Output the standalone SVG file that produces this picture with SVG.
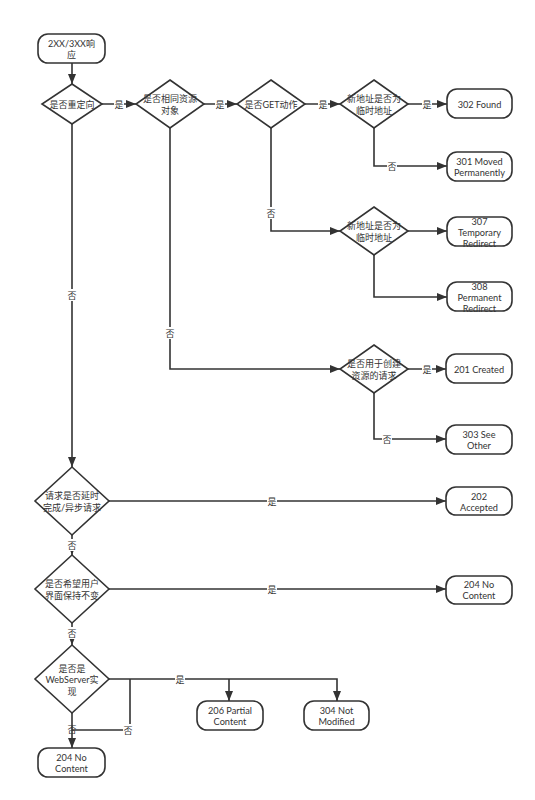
<svg xmlns="http://www.w3.org/2000/svg" width="535" height="800" viewBox="0 0 535 800">
<style>
.n{fill:#fff;stroke:#333;stroke-width:1.6}
.t{font-family:Lato,"Noto Sans CJK SC",sans-serif;font-size:9.2px;fill:#333;text-anchor:middle;dominant-baseline:central}
.c{font-family:Lato,"Noto Sans CJK SC",sans-serif;font-size:9px;fill:#333;text-anchor:middle;dominant-baseline:central}
.e{fill:none;stroke:#333;stroke-width:1.6}
.lb{fill:#fff}
</style>
<defs>
<marker id="a" markerUnits="userSpaceOnUse" markerWidth="10" markerHeight="8" refX="10" refY="4" orient="auto">
<path d="M0,0 L10,4 L0,8 z" fill="#333"/>
</marker>
</defs>
<rect width="535" height="800" fill="#fff"/>
<g id="connectors">
<path class="e" d="M72,63 V84" marker-end="url(#a)"/>
<path class="e" d="M101,104 H136" marker-end="url(#a)"/>
<path class="e" d="M204,104 H237" marker-end="url(#a)"/>
<path class="e" d="M305,104 H340" marker-end="url(#a)"/>
<path class="e" d="M408,104 H447" marker-end="url(#a)"/>
<path class="e" d="M374,128 V166 H447" marker-end="url(#a)"/>
<path class="e" d="M271,128 V231 H340" marker-end="url(#a)"/>
<path class="e" d="M408,231 H447" marker-end="url(#a)"/>
<path class="e" d="M374,255 V297 H447" marker-end="url(#a)"/>
<path class="e" d="M170,128 V369 H340" marker-end="url(#a)"/>
<path class="e" d="M408,369 H446" marker-end="url(#a)"/>
<path class="e" d="M374,393 V439 H446" marker-end="url(#a)"/>
<path class="e" d="M72,124 V467" marker-end="url(#a)"/>
<path class="e" d="M109,501 H446" marker-end="url(#a)"/>
<path class="e" d="M72,535 V555" marker-end="url(#a)"/>
<path class="e" d="M109,589 H446" marker-end="url(#a)"/>
<path class="e" d="M72,623 V645" marker-end="url(#a)"/>
<path class="e" d="M109,679 H337 V701" marker-end="url(#a)"/>
<path class="e" d="M229,679 V701" marker-end="url(#a)"/>
<path class="e" d="M130,679 V730 H72"/>
<path class="e" d="M72,713 V748" marker-end="url(#a)"/>
<g>
<rect class="lb" x="114" y="98" width="10" height="12"/><text class="c" x="119" y="104">是</text>
<rect class="lb" x="215" y="98" width="10" height="12"/><text class="c" x="220" y="104">是</text>
<rect class="lb" x="318" y="98" width="10" height="12"/><text class="c" x="323" y="104">是</text>
<rect class="lb" x="422" y="98" width="10" height="12"/><text class="c" x="427" y="104">是</text>
<rect class="lb" x="387" y="160" width="10" height="12"/><text class="c" x="392" y="166">否</text>
<rect class="lb" x="266" y="207" width="10" height="12"/><text class="c" x="271" y="213">否</text>
<rect class="lb" x="165" y="327" width="10" height="12"/><text class="c" x="170" y="333">否</text>
<rect class="lb" x="422" y="363" width="10" height="12"/><text class="c" x="427" y="369">是</text>
<rect class="lb" x="382" y="433" width="10" height="12"/><text class="c" x="387" y="439">否</text>
<rect class="lb" x="67" y="289" width="10" height="12"/><text class="c" x="72" y="295">否</text>
<rect class="lb" x="267" y="495" width="10" height="12"/><text class="c" x="272" y="501">是</text>
<rect class="lb" x="67" y="539" width="10" height="12"/><text class="c" x="72" y="545">否</text>
<rect class="lb" x="267" y="583" width="10" height="12"/><text class="c" x="272" y="589">是</text>
<rect class="lb" x="67" y="627" width="10" height="12"/><text class="c" x="72" y="633">否</text>
<rect class="lb" x="175" y="673" width="10" height="12"/><text class="c" x="180" y="679">是</text>
<rect class="lb" x="123" y="724" width="10" height="12"/><text class="c" x="128" y="730">否</text>
<text class="c" x="72" y="729">否</text>
</g>
</g>
<g id="start"><rect class="n" x="38" y="34" width="67" height="29" rx="10"/><text class="c" x="71.5" y="43">2XX/3XX响</text><text class="c" x="71.5" y="54">应</text></g>
<g id="d1"><path class="n" d="M72,84 L102,104 L72,124 L42,104 Z"/><text class="c" x="72" y="104">是否重定向</text></g>
<g id="d2"><path class="n" d="M170,80 L204,104 L170,128 L136,104 Z"/><text class="c" x="170" y="98">是否相同资源</text><text class="c" x="170" y="110">对象</text></g>
<g id="d3"><path class="n" d="M271,80 L305,104 L271,128 L237,104 Z"/><text class="c" x="271" y="104">是否GET动作</text></g>
<g id="d4"><path class="n" d="M374,80 L408,104 L374,128 L340,104 Z"/><text class="c" x="374" y="98">新地址是否为</text><text class="c" x="374" y="110">临时地址</text></g>
<g id="d5"><path class="n" d="M374,207 L408,231 L374,255 L340,231 Z"/><text class="c" x="374" y="225">新地址是否为</text><text class="c" x="374" y="237">临时地址</text></g>
<g id="d6"><path class="n" d="M374,345 L408,369 L374,393 L340,369 Z"/><text class="c" x="374" y="363">是否用于创建</text><text class="c" x="374" y="375">资源的请求</text></g>
<g id="d7"><path class="n" d="M72,467 L109,501 L72,535 L35,501 Z"/><text class="c" x="72" y="495">请求是否延时</text><text class="c" x="72" y="507">完成/异步请求</text></g>
<g id="d8"><path class="n" d="M72,555 L109,589 L72,623 L35,589 Z"/><text class="c" x="72" y="583">是否希望用户</text><text class="c" x="72" y="595">界面保持不变</text></g>
<g id="d9"><path class="n" d="M72,645 L109,679 L72,713 L35,679 Z"/><text class="c" x="72" y="668">是否是</text><text class="c" x="72" y="679.5">WebServer实</text><text class="c" x="72" y="691">现</text></g>
<g id="s302"><rect class="n" x="447" y="89" width="65" height="29" rx="10"/><text class="t" x="479.5" y="104">302 Found</text></g>
<g id="s301"><rect class="n" x="447" y="152" width="65" height="29" rx="10"/><text class="t" x="479.5" y="161">301 Moved</text><text class="t" x="479.5" y="172.2">Permanently</text></g>
<g id="s307"><rect class="n" x="447" y="217" width="65" height="29" rx="10"/><text class="t" x="479.5" y="221">307</text><text class="t" x="479.5" y="232.2">Temporary</text><text class="t" x="479.5" y="243.4">Redirect</text></g>
<g id="s308"><rect class="n" x="447" y="282" width="65" height="29" rx="10"/><text class="t" x="479.5" y="286">308</text><text class="t" x="479.5" y="297.2">Permanent</text><text class="t" x="479.5" y="308.4">Redirect</text></g>
<g id="s201"><rect class="n" x="446" y="354" width="66" height="29" rx="10"/><text class="t" x="479" y="369">201 Created</text></g>
<g id="s303"><rect class="n" x="446" y="425" width="66" height="29" rx="10"/><text class="t" x="479" y="434">303 See</text><text class="t" x="479" y="445.2">Other</text></g>
<g id="s202"><rect class="n" x="446" y="487" width="66" height="28" rx="10"/><text class="t" x="479" y="496">202</text><text class="t" x="479" y="507.2">Accepted</text></g>
<g id="s204a"><rect class="n" x="446" y="576" width="66" height="28" rx="10"/><text class="t" x="479" y="584.5">204 No</text><text class="t" x="479" y="595.7">Content</text></g>
<g id="s206"><rect class="n" x="197" y="701" width="66" height="29" rx="10"/><text class="t" x="230" y="710">206 Partial</text><text class="t" x="230" y="721.2">Content</text></g>
<g id="s304"><rect class="n" x="304" y="701" width="65" height="29" rx="10"/><text class="t" x="336.5" y="710">304 Not</text><text class="t" x="336.5" y="721.2">Modified</text></g>
<g id="s204b"><rect class="n" x="38" y="748" width="67" height="29" rx="10"/><text class="t" x="71.5" y="757">204 No</text><text class="t" x="71.5" y="768.2">Content</text></g>
</svg>
